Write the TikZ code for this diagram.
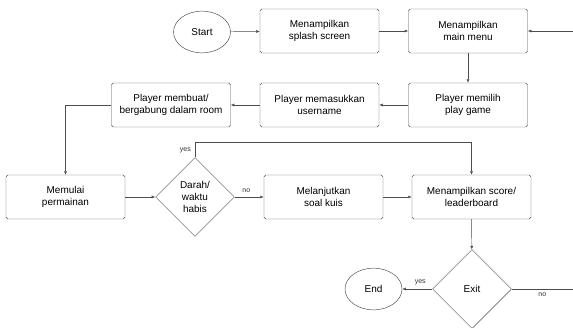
\documentclass[tikz,border=0pt]{standalone}
\usepackage{fontspec}
\setmainfont{Liberation Sans}
\usetikzlibrary{shapes.geometric,arrows.meta}

\begin{document}
\begin{tikzpicture}[x=0.03cm,y=-0.03cm,
  font=\fontsize{8.5}{10}\selectfont,
  proses/.style={draw=black!70,rounded corners=1.5pt,minimum width=3.57cm,minimum height=1.32cm,align=center,inner sep=1pt},
  terminal/.style={draw=black!70,ellipse,minimum width=1.71cm,minimum height=1.25cm,inner sep=0pt},
  keputusan/.style={draw=black!70,diamond,minimum width=2.37cm,minimum height=2.37cm,align=center,inner sep=0pt},
  panah/.style={draw=black!70,-{Latex[length=3pt,width=2.5pt]}},
  ket/.style={font=\fontsize{6}{7}\selectfont,text=black!80}]

\useasboundingbox (0,0) rectangle (573,327);

% Baris 1
\node[terminal] (start) at (202,32) {Start};
\node[proses] (splash) at (319.5,31) {Menampilkan\\splash screen};
\node[proses] (menu) at (468,31) {Menampilkan\\main menu};

% Baris 2
\node[proses] (pilih) at (468,105) {Player memilih\\play game};
\node[proses] (username) at (319.5,105) {Player memasukkan\\username};
\node[proses] (room) at (171,105) {Player membuat/\\bergabung dalam room};

% Baris 3
\node[proses] (mulai) at (65.5,197) {Memulai\\permainan};
\node[keputusan] (darah) at (195,197) {Darah/\\waktu\\habis};
\node[proses] (lanjut) at (323.5,197) {Melanjutkan\\soal kuis};
\node[proses] (skor) at (471.5,197) {Menampilkan score/\\leaderboard};

% Baris 4
\node[keputusan] (exit) at (472,289) {Exit};
\node[terminal] (end) at (373.5,289) {End};

% Ujung garis di tepi kanan
\coordinate (kanan1) at (573,31);
\coordinate (kanan2) at (573,289);

% Panah
\draw[panah] (start) -- (splash);
\draw[panah] (splash) -- (menu);
\draw[panah] (kanan1) -- (menu);
\draw[panah] (menu) -- (pilih);
\draw[panah] (pilih) -- (username);
\draw[panah] (username) -- (room);
\draw[panah] (room.west) -| (mulai.north);
\draw[panah] (mulai) -- (darah);
\draw[panah] (darah) -- node[ket,above,pos=0.4] {no} (lanjut);
\draw[panah] (darah.north) -- ++(0,-15) node[ket,left,pos=0.45] {yes} -| (skor.north);
\draw[panah] (lanjut) -- (skor);
\draw[panah] (skor) -- (exit);
\draw[panah] (exit) -- node[ket,above,pos=0.4] {yes} (end);
\draw[draw=black!70] (exit) -- node[ket,below,pos=0.5] {no} (kanan2);
\end{tikzpicture}
\end{document}
